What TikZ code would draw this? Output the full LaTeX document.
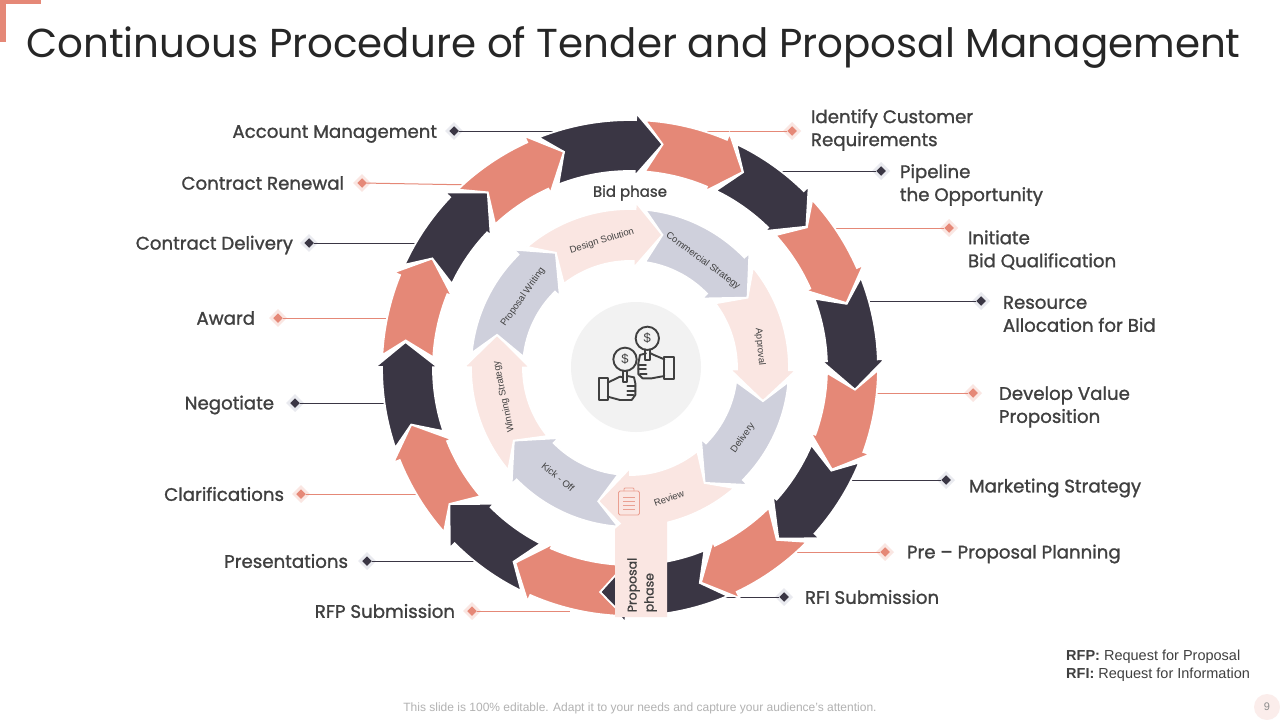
\documentclass[tikz,border=0pt]{standalone}
\usepackage{fontspec}
\setmainfont{Liberation Sans}
\newfontfamily\titlefont{Poppins}
\newfontfamily\labelfont{Poppins}[FakeBold=1.2]
\usetikzlibrary{positioning,shapes.geometric}
\definecolor{slidedark}{RGB}{58,54,68}
\definecolor{slidesalmon}{RGB}{229,136,119}
\definecolor{slidepale}{RGB}{250,230,226}
\definecolor{slidegrey}{RGB}{207,208,220}
\definecolor{slidetext}{RGB}{64,64,64}
\newcommand{\ringarrow}[6]{%
  \filldraw[arrowpiece, fill=#1] (#2:\rout) arc[start angle=#2, end angle=#5, radius=\rout]
    -- (#5:\rbo) -- (#6:\rmid) -- (#5:\rbi) -- (#5:\rin)
    arc[start angle=#5, end angle=#3, radius=\rin] -- (#4:\rmid) -- cycle;}

\begin{document}
\begin{tikzpicture}[
  x=1pt, y=-1pt,
  arrowpiece/.style={draw=white, line width=1.8pt, line join=miter},
  darkdot/.style={diamond, inner sep=0pt, outer sep=0pt, minimum size=9.5pt, fill=slidedark,
                  preaction={draw=slidegrey!45, line width=6pt}},
  saldot/.style={diamond, inner sep=0pt, outer sep=0pt, minimum size=9.5pt, fill=slidesalmon,
                 preaction={draw=slidepale, line width=6pt}},
  darkline/.style={slidedark, line width=1pt},
  salline/.style={slidesalmon, line width=1pt},
  lbl/.style={font=\labelfont\fontsize{18.2}{23}\selectfont, text=slidetext, align=left, inner sep=0pt},
  inlbl/.style={font=\fontsize{9.5}{11}\selectfont, text=slidetext, inner sep=0pt},
  icon/.style={draw=slidetext, line width=1.9pt, line join=round, line cap=round}
]
\useasboundingbox (0,0) rectangle (1280,720);
\fill[white] (0,0) rectangle (1280,720);

% corner and title
\fill[slidesalmon] (0,0) rectangle (41,4);
\fill[slidesalmon] (0,0) rectangle (6,42);
\node[font=\titlefont\fontsize{40.4}{44}\selectfont, text=black!85, inner sep=0pt, anchor=west] (title) at (26,48)
  {Continuous Procedure of Tender and Proposal Management};

% leader ends and marks
\node[darkdot] (dacc) at (454,131) {};  \coordinate (eacc) at (570,131);
\node[saldot]  (dren) at (362,183) {};  \coordinate (eren) at (475,185);
\node[darkdot] (ddel) at (309,243) {};  \coordinate (edel) at (425,243);
\node[saldot]  (dawd) at (278,318) {};  \coordinate (eawd) at (392,318);
\node[darkdot] (dneg) at (295,403) {};  \coordinate (eneg) at (392,403);
\node[saldot]  (dcla) at (301,494) {};  \coordinate (ecla) at (425,494);
\node[darkdot] (dpre) at (367,561) {};  \coordinate (epre) at (485,561);
\node[saldot]  (drfp) at (472,611) {};  \coordinate (erfp) at (570,611);
\node[saldot]  (dide) at (792,131) {};  \coordinate (eide) at (685,131);
\node[darkdot] (dpip) at (881,171) {};  \coordinate (epip) at (770,171);
\node[saldot]  (dini) at (949,228) {};  \coordinate (eini) at (825,228);
\node[darkdot] (dres) at (981,301) {};  \coordinate (eres) at (860,301);
\node[saldot]  (ddev) at (973,393) {};  \coordinate (edev) at (870,393);
\node[darkdot] (dmar) at (946,480) {};  \coordinate (emar) at (845,480);
\node[saldot]  (dplan) at (885,552) {}; \coordinate (eplan) at (790,552);
\node[darkdot] (drfi) at (784,597) {};  \coordinate (erfi) at (715,597);

\draw[darkline] (dacc) -- (eacc); \draw[salline] (dren) -- (eren);
\draw[darkline] (ddel) -- (edel); \draw[salline] (dawd) -- (eawd);
\draw[darkline] (dneg) -- (eneg); \draw[salline] (dcla) -- (ecla);
\draw[darkline] (dpre) -- (epre); \draw[salline] (drfp) -- (erfp);
\draw[salline] (dide) -- (eide);  \draw[darkline] (dpip) -- (epip);
\draw[salline] (dini) -- (eini);  \draw[darkline] (dres) -- (eres);
\draw[salline] (ddev) -- (edev);  \draw[darkline] (dmar) -- (emar);
\draw[salline] (dplan) -- (eplan); \draw[darkline] (drfi) -- (erfi);

% labels
\node[lbl, left=12pt of dacc, yshift=-3pt] (lacc) {Account Management};
\node[lbl, left=13pt of dren] (lren) {Contract Renewal};
\node[lbl, left=11pt of ddel, yshift=-2pt] (ldel) {Contract Delivery};
\node[lbl, left=18pt of dawd] (lawd) {Award};
\node[lbl, left=16pt of dneg, yshift=-2pt] (lneg) {Negotiate};
\node[lbl, left=12pt of dcla] (lcla) {Clarifications};
\node[lbl, left=14pt of dpre] (lpre) {Presentations};
\node[lbl, left=12pt of drfp] (lrfp) {RFP Submission};
\node[lbl, right=14pt of dide, yshift=1pt] (lide) {Identify Customer\\Requirements};
\node[lbl, right=14pt of dpip, yshift=-14pt] (lpip) {Pipeline\\the Opportunity};
\node[lbl, right=14pt of dini, yshift=-22pt] (lini) {Initiate\\Bid Qualification};
\node[lbl, right=17pt of dres, yshift=-13pt] (lres) {Resource\\Allocation for Bid};
\node[lbl, right=21pt of ddev, yshift=-14pt] (ldev) {Develop Value\\Proposition};
\node[lbl, right=18pt of dmar, yshift=-8pt] (lmar) {Marketing Strategy};
\node[lbl, right=17pt of dplan, yshift=-2pt] (lplan) {Pre – Proposal Planning};
\node[lbl, right=16pt of drfi] (lrfi) {RFI Submission};

% outer ring
\begin{scope}[shift={(630,368)}, y=1pt]
\def\rout{248} \def\rin{197} \def\rmid{226} \def\rbo{255} \def\rbi{192}
\ringarrow{slidedark}{111.6}{111.3}{107}{88.6}{81.7}
\ringarrow{slidesalmon}{86.5}{85.7}{81.7}{67}{60.1}
\ringarrow{slidedark}{64.6}{64.2}{60}{45.5}{38.7}
\ringarrow{slidesalmon}{42.7}{42.4}{38.5}{23.8}{16.7}
\ringarrow{slidedark}{21.4}{20.6}{16.5}{2}{-5.5}
\ringarrow{slidesalmon}{-0.5}{-1.4}{-5.5}{-19.8}{-26.7}
\ringarrow{slidedark}{-22.4}{-23}{-27}{-41.9}{-49}
\ringarrow{slidesalmon}{-44.5}{-45.2}{-49.5}{-64.5}{-71.7}
\ringarrow{slidedark}{-66.8}{-67.8}{-72}{-91}{-97.6}
\ringarrow{slidesalmon}{-91.5}{-91.5}{-97.6}{-113.7}{-120.5}
\ringarrow{slidedark}{-116}{-117}{-121}{-135}{-143}
\ringarrow{slidesalmon}{-138.6}{-139.4}{-143}{-158.2}{-165.5}
\ringarrow{slidedark}{-161.2}{-161.3}{-165.5}{-180.2}{-186.6}
\ringarrow{slidesalmon}{-183}{-183.1}{-187}{-202}{-209}
\ringarrow{slidedark}{-204.6}{-205.3}{-209}{-223.5}{-231}
\ringarrow{slidesalmon}{-226}{-226.8}{-231}{-245.5}{-253}
% inner ring
\def\rout{159} \def\rin{107} \def\rmid{137} \def\rbo{166} \def\rbi{100}
\ringarrow{slidepale}{130.4}{128.2}{122.8}{88}{76.3}
\ringarrow{slidegrey}{84.5}{81.9}{76.3}{44}{30.9}
\ringarrow{slidepale}{39.3}{37.2}{30.9}{-0.8}{-14}
\ringarrow{slidegrey}{-5}{-7.3}{-14}{-44.8}{-57}
\ringarrow{slidepale}{-49}{-51}{-57}{-90}{-103.4}
\ringarrow{slidegrey}{-94.3}{-96.3}{-103.4}{-135.5}{-148}
\ringarrow{slidepale}{-140}{-140.5}{-148}{-180.3}{-194}
\ringarrow{slidegrey}{-185.4}{-186}{-194}{-225.5}{-237.2}
\end{scope}

% phase tab and inner labels
\fill[slidepale] (615,617) -- (615,529) -- (628,518) -- (667,518) -- (667,617) -- cycle;
\node[font=\labelfont\fontsize{12.5}{17}\selectfont, text=slidetext, rotate=90, align=left, inner sep=0pt] (lphase) at (642,585) {Proposal\\phase};
\node[font=\labelfont\fontsize{15}{15}\selectfont, text=slidetext, inner sep=0pt] (lbid) at (630,193) {Bid phase};
\node[inlbl, rotate=17]  (ldes) at (602,241) {Design Solution};
\node[inlbl, rotate=-36] (lcom) at (703,261) {Commercial Strategy};
\node[inlbl, rotate=55]  (lwri) at (523,297) {Proposal Writing};
\node[inlbl, rotate=-85] (lapp) at (760,347) {Approval};
\node[inlbl, rotate=55]  (ldlv) at (743,438) {Delivery};
\node[inlbl, rotate=19]  (lrev) at (669,498) {Review};
\node[inlbl, rotate=-39] (lkic) at (558,477) {Kick - Off};
\node[inlbl, rotate=102] (lwin) at (504,397) {Winning Strategy};

% clipboard
\begin{scope}[draw=slidesalmon!80, line width=.8pt]
\draw[rounded corners=1.5pt] (618.5,491) rectangle (639.5,515);
\draw[rounded corners=1pt] (624,491) -- (624,488) -- (634,488) -- (634,491);
\draw (623,497) -- (635,497) (623,501) -- (635,501) (623,505) -- (635,505) (623,509) -- (635,509);
\end{scope}

% centre icon
\fill[black!5] (636,367) circle (65);
\begin{scope}[shift={(570,300)}, x=.3333pt, y=-.3333pt]
\draw[icon] (232,115) circle (35);
\draw[icon] (165,178) circle (35);
\node[font=\fontsize{13}{13}\selectfont, text=slidetext, inner sep=0pt] (cup) at (232,115) {\$};
\node[font=\fontsize{13}{13}\selectfont, text=slidetext, inner sep=0pt] (clo) at (165,178) {\$};
\draw[icon] (88,235) rectangle (113,300);
\draw[icon] (283,170) rectangle (313,238);
\draw[icon] (113,248) -- (150,230) -- (158,232) (172,228) -- (192,232) -- (196,250) -- (196,285) -- (185,300) -- (150,300) -- (113,290);
\draw[icon] (158,212) -- (158,245) -- (172,245) -- (172,212);
\draw[icon] (172,258) -- (196,258) (172,272) -- (196,272) (172,286) -- (190,286);
\draw[icon] (283,178) -- (252,165) -- (242,160) (228,160) -- (210,165) -- (205,190) -- (205,222) -- (218,235) -- (245,235) -- (283,228);
\draw[icon] (226,148) -- (226,180) -- (240,180) -- (240,148);
\draw[icon] (205,195) -- (228,195) (205,208) -- (228,208) (210,222) -- (230,222);
\end{scope}

% legend and footer
\node[font=\fontsize{14.5}{18}\selectfont, text=slidetext, align=left, inner sep=0pt, anchor=north west] (legend) at (1066,650)
  {\textbf{RFP:} Request for Proposal\\\textbf{RFI:} Request for Information};
\node[font=\fontsize{12}{13}\selectfont, text=black!30, inner sep=0pt] (foot) at (640,708)
  {This slide is 100\% editable. Adapt it to your needs and capture your audience's attention.};
\node[circle, fill=slidepale!70, minimum size=26pt, inner sep=0pt, font=\fontsize{11}{11}\selectfont, text=black!45] (page) at (1267,707) {9};
\end{tikzpicture}
\end{document}
